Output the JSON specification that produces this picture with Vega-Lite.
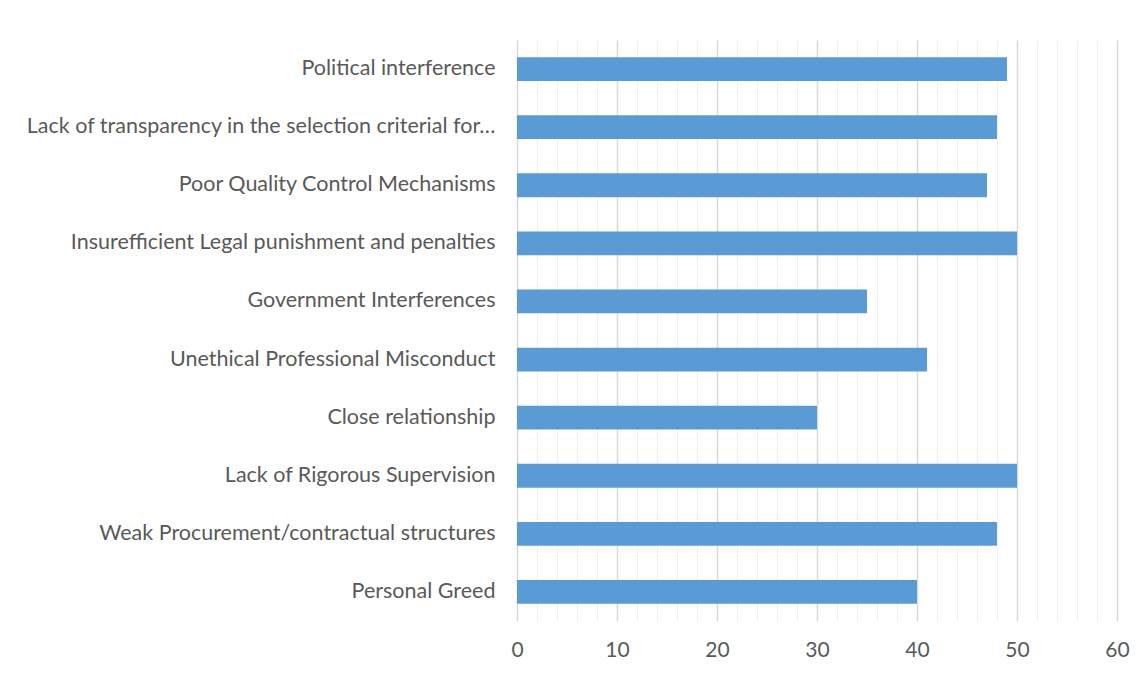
{
  "$schema": "https://vega.github.io/schema/vega-lite/v6.json",
  "autosize": "none",
  "width": 600,
  "height": 581,
  "padding": {"left": 517, "top": 40, "right": 28, "bottom": 56},
  "background": "white",
  "config": {"view": {"stroke": null}, "font": "Lato"},
  "data": {"values": [
    {"item": "Political interference\u00a0", "value": 49},
    {"item": "Lack of transparency in the selection criterial for…", "value": 48},
    {"item": "Poor Quality Control Mechanisms\u00a0", "value": 47},
    {"item": "Insurefficient Legal punishment and penalties\u00a0", "value": 50},
    {"item": "Government Interferences", "value": 35},
    {"item": "Unethical Professional Misconduct", "value": 41},
    {"item": "Close relationship", "value": 30},
    {"item": "Lack of Rigorous Supervision", "value": 50},
    {"item": "Weak Procurement/contractual structures", "value": 48},
    {"item": "Personal Greed", "value": 40}
  ]},
  "mark": {"type": "bar", "color": "#5b9bd5"},
  "encoding": {
    "y": {
      "field": "item", "type": "nominal", "sort": null,
      "scale": {"paddingInner": 0.59, "paddingOuter": 0.295},
      "axis": {"title": null, "domain": false, "ticks": false, "labelPadding": 22,
               "labelFontSize": 21.5, "labelColor": "#595959", "labelFont": "Lato", "labelLimit": 520}
    },
    "x": {
      "field": "value", "type": "quantitative",
      "scale": {"domain": [0, 60], "nice": false},
      "axis": {
        "title": null, "domain": false, "ticks": false, "labelFlush": false,
        "values": [0,2,4,6,8,10,12,14,16,18,20,22,24,26,28,30,32,34,36,38,40,42,44,46,48,50,52,54,56,58,60],
        "labelExpr": "datum.value % 10 === 0 ? datum.label : ''",
        "labelFontSize": 21, "labelColor": "#595959", "labelPadding": 18, "labelFont": "Lato",
        "grid": true,
        "gridColor": {"condition": {"test": "datum.value % 10 === 0", "value": "#d9d9d9"}, "value": "#f0f0f0"},
        "gridWidth": {"condition": {"test": "datum.value % 10 === 0", "value": 1.5}, "value": 1.2}
      }
    }
  }
}
